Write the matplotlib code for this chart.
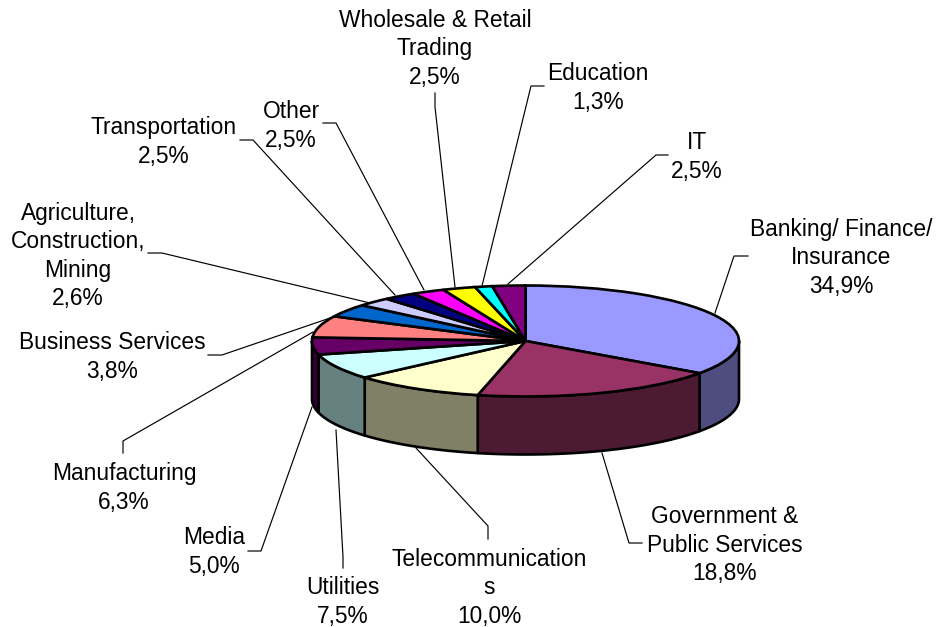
import numpy as np
import matplotlib
matplotlib.use("Agg")
import matplotlib.pyplot as plt

plt.rcParams['font.family'] = ['Liberation Sans', 'DejaVu Sans']

# values clockwise from 12 o'clock
sectors = ["Banking/ Finance/\nInsurance", "Government &\nPublic Services", "Telecommunication\ns", "Utilities",
           "Media", "Manufacturing", "Business Services", "Agriculture,\nConstruction,\nMining", "Transportation",
           "Other", "Wholesale & Retail\nTrading", "Education", "IT"]
shares = [34.9, 18.8, 10.0, 7.5, 5.0, 6.3, 3.8, 2.6, 2.5, 2.5, 2.5, 1.3, 2.5]
top_colors = ["#9999FF", "#993366", "#FFFFCC", "#CCFFFF", "#660066", "#FF8080", "#0066CC",
              "#CCCCFF", "#000080", "#FF00FF", "#FFFF00", "#00FFFF", "#800080"]
side_colors = ["#4D4D80", "#4D1A33", "#808066", "#668080", "#330033", "#804040", "#003366",
               "#666680", "#000040", "#800080", "#808000", "#008080", "#400040"]

W, H = 936, 627
cx, cy, rx, ry = 525.5, 341, 213.5, 55.5
depth = 58 / ry

# label anchors and leader lines, in pixels
label_pos = [(841, 258), (725, 545), (489, 588), (343, 602), (214, 552), (124, 488), (112, 357),
             (78, 256), (164, 142), (291, 126), (435, 49), (598, 88), (697, 157)]
leaders = [
    [(715, 313), (734, 256), (748, 256)],
    [(602, 453), (629, 543), (642, 543)],
    [(416, 448), (488, 526), (488, 539)],
    [(336, 430), (343, 557), (343, 568)],
    [(312, 407), (261, 551), (248, 551)],
    [(313, 332), (123, 441), (123, 453)],
    [(333, 317), (222, 355), (208, 355)],
    [(370, 303), (162, 253), (148, 253)],
    [(395, 295), (253, 140), (240, 140)],
    [(424, 290), (336, 123), (323, 123)],
    [(455, 287), (435, 107), (435, 93)],
    [(482, 286), (531, 86), (544, 86)],
    [(508, 284), (656, 155), (668, 155)],
]

fig = plt.figure(figsize=(W / 100, H / 100), dpi=100)
ax = fig.add_axes([0, 0, 1, 1])

ax.pie(shares, colors=top_colors, startangle=90, counterclock=False, radius=1,
       wedgeprops=dict(edgecolor="black", linewidth=1.9, zorder=5))
ax.set_aspect("auto")
ax.set_xlim((0 - cx) / rx, (W - cx) / rx)
ax.set_ylim((cy - H) / ry, cy / ry)

# the rim of the disc: only the part facing the viewer
edges = np.cumsum([0] + shares) / sum(shares) * 360
for i in range(len(shares)):
    lo, hi = max(edges[i], 90), min(edges[i + 1], 270)
    if lo >= hi:
        continue
    a = np.radians(np.linspace(lo, hi, 60))
    xs = np.sin(a)
    ys = np.cos(a)
    ax.fill(np.r_[xs, xs[::-1]], np.r_[ys, ys[::-1] - depth], facecolor=side_colors[i],
            edgecolor="black", linewidth=1.9, joinstyle="round", zorder=2)

px = fig.add_axes([0, 0, 1, 1])
px.set_xlim(0, W)
px.set_ylim(H, 0)
px.axis("off")
px.patch.set_alpha(0)

for line in leaders:
    px.plot([p[0] for p in line], [p[1] for p in line], color="black", lw=0.85, solid_joinstyle="miter")

for name, share, pos in zip(sectors, shares, label_pos):
    txt = name + "\n" + f"{share:.1f}".replace(".", ",") + "%"
    px.text(pos[0], pos[1], txt, ha="center", va="center", fontsize=16.4, linespacing=1.28, color="black")

fig.savefig("out.png", dpi=100)
